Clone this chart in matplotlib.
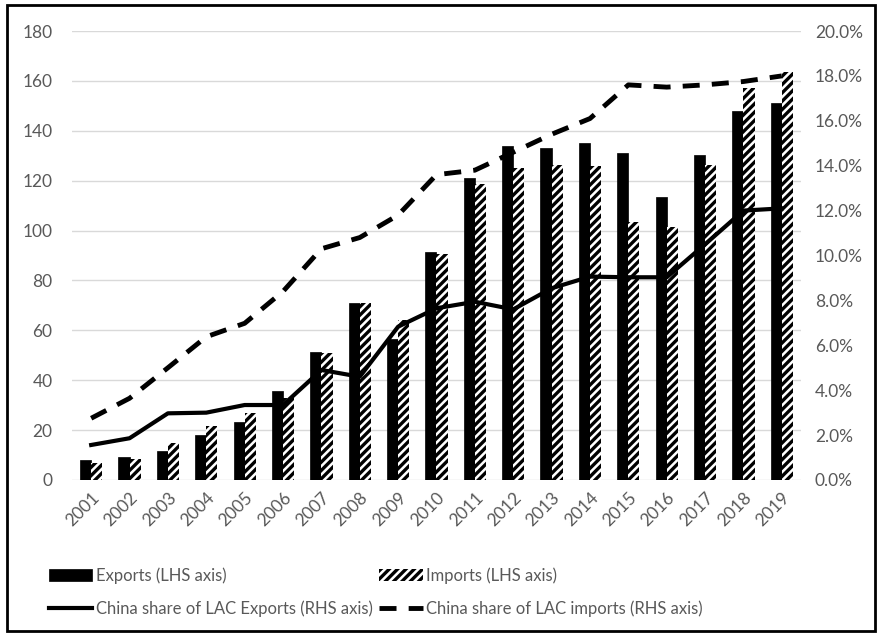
import matplotlib.pyplot as plt
import matplotlib.ticker as mticker
from matplotlib.patches import Rectangle
import numpy as np

plt.rcParams["font.family"] = ["Lato", "DejaVu Sans"]
plt.rcParams["hatch.linewidth"] = 2.4

years = [str(y) for y in range(2001, 2020)]
exports = [8, 9.3, 11.6, 18, 23.4, 35.7, 51.4, 71.1, 56.4, 91.3,
           120.9, 134, 133.2, 135, 131.2, 113.6, 130.3, 147.9, 151]
imports = [6.7, 8.4, 15, 21.6, 26.7, 32.7, 51, 71, 64, 90.6,
           118.7, 125, 126.3, 125.9, 103.6, 101.5, 126.3, 157.3, 163.7]
share_exports = [1.56, 1.86, 2.97, 3.0, 3.34, 3.34, 4.9, 4.6, 6.83, 7.65,
                 7.94, 7.6, 8.54, 9.06, 9.03, 9.03, 10.5, 12.0, 12.1]
share_imports = [2.75, 3.64, 5.0, 6.38, 6.98, 8.4, 10.3, 10.8, 11.8, 13.6,
                 13.8, 14.6, 15.4, 16.1, 17.6, 17.5, 17.6, 17.75, 18.0]

gray = "#595959"
x = np.arange(len(years))
w = 0.29

fig = plt.figure(figsize=(8.82, 6.36), dpi=100)
ax = fig.add_axes([72 / 882, 1 - 480 / 636, (801 - 72) / 882, (480 - 31) / 636])

b1 = ax.bar(x - w / 2, exports, w, color="black", edgecolor="black", linewidth=0.5,
            label="Exports (LHS axis)", zorder=2)
b2 = ax.bar(x + w / 2, imports, w, color="white", edgecolor="black", linewidth=0,
            hatch="////", label="Imports (LHS axis)", zorder=2)

ax.set_ylim(0, 180)
ax.set_yticks(range(0, 181, 20))
ax.set_xlim(-0.5, len(years) - 0.5)
ax.set_xticks(x)
ax.set_xticklabels(years, rotation=45, ha="right", rotation_mode="anchor")
ax.grid(axis="y", color="#d9d9d9", linewidth=1, zorder=0)
ax.set_axisbelow(True)
for s in ax.spines.values():
    s.set_visible(False)
ax.tick_params(axis="both", length=0, colors=gray, labelsize=12.5)
ax.tick_params(axis="y", pad=14)
ax.tick_params(axis="x", pad=7)

ax2 = ax.twinx()
l1, = ax2.plot(x, share_exports, color="black", linewidth=3,
               label="China share of LAC Exports (RHS axis)")
l2, = ax2.plot(x, share_imports, color="black", linewidth=3.5, dashes=(3.5, 2.5),
               label="China share of LAC imports (RHS axis)")
ax2.set_ylim(0, 20)
ax2.set_yticks(np.arange(0, 20.1, 2))
ax2.yaxis.set_major_formatter(mticker.FuncFormatter(lambda v, p: f"{v:.1f}%"))
for s in ax2.spines.values():
    s.set_visible(False)
ax2.tick_params(axis="y", length=0, colors=gray, labelsize=12.5, pad=10)

fig.legend([b1, l1, b2, l2],
           [h.get_label() for h in (b1, l1, b2, l2)],
           ncol=2, loc="upper left", bbox_to_anchor=(34 / 882, 1 - 552 / 636),
           frameon=False, labelcolor=gray, fontsize=12,
           handlelength=2.6, handletextpad=0.2, columnspacing=0.4,
           labelspacing=1.0)

fig.patches.append(Rectangle((7 / 882, 5 / 636), 868 / 882, 626 / 636,
                             transform=fig.transFigure, fill=False,
                             edgecolor="black", linewidth=2))

fig.savefig("out.png", dpi=100)
